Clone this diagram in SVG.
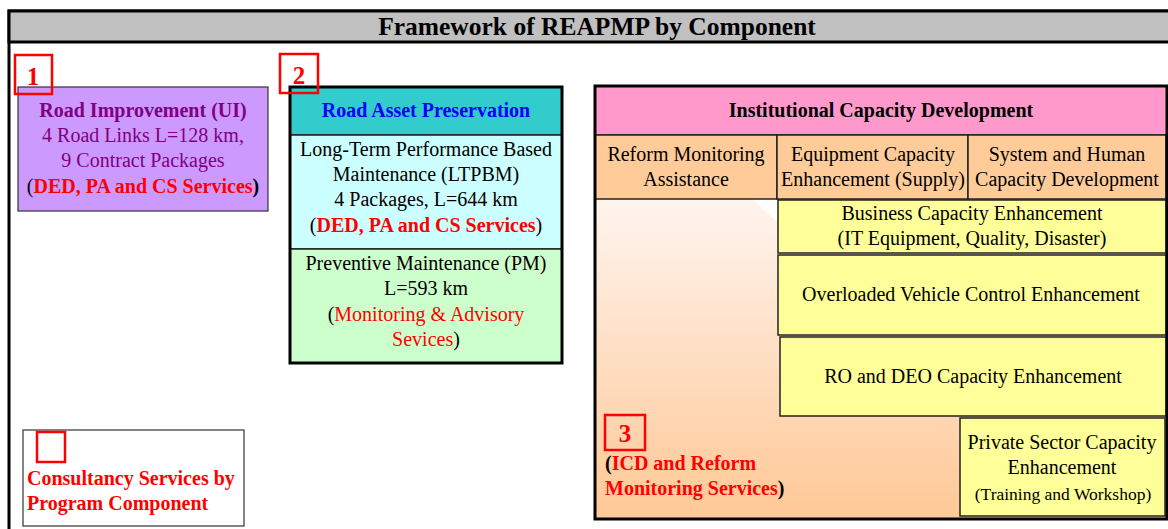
<svg xmlns="http://www.w3.org/2000/svg" width="1168" height="529" viewBox="0 0 1168 529">
  <defs>
    <linearGradient id="icdFade" x1="0" y1="0" x2="0" y2="1">
      <stop offset="0" stop-color="#FFF4EE"/>
      <stop offset="1" stop-color="#FFC896"/>
    </linearGradient>
    <style>
      text { font-family: "Liberation Serif", "Times New Roman", serif; font-size: 20px; fill: #000; }
      .c { text-anchor: middle; }
      .b { font-weight: bold; }
      .red { fill: #FF0000; }
      .purple { fill: #800080; }
      .blue { fill: #0000FF; }
      .thin { stroke: #333; stroke-width: 1.2; }
      .cell { stroke: #222; stroke-width: 1.5; }
      .heavy { fill: none; stroke: #000; stroke-width: 3; }
      .tag { fill: none; stroke: #FF0000; stroke-width: 2.5; }
      .num { font-size: 25px; font-weight: bold; fill: #FF0000; text-anchor: middle; }
    </style>
  </defs>

  <!-- page frame and title bar -->
  <g id="frame">
    <rect x="9" y="11" width="1175" height="540" fill="#FFFFFF" stroke="#000" stroke-width="3"/>
    <rect x="9" y="11" width="1175" height="31" fill="#C0C0C0" stroke="#000" stroke-width="3"/>
    <text x="597" y="35" class="c b" style="font-size:25.5px">Framework of REAPMP by Component</text>
  </g>

  <!-- component 1: road improvement -->
  <g id="road-improvement">
    <rect x="18" y="87" width="250" height="124" fill="#CC99FF" class="thin"/>
    <text x="143" y="117" class="c b purple">Road Improvement (UI)</text>
    <text x="143" y="142" class="c purple">4 Road Links L=128 km,</text>
    <text x="143" y="167" class="c purple">9 Contract Packages</text>
    <text x="143" y="193" class="c b"><tspan style="font-weight:normal">(</tspan><tspan class="red">DED, PA and CS Services</tspan>)</text>
    <rect x="15" y="55" width="37" height="39" class="tag"/>
    <text x="33" y="85" class="num">1</text>
  </g>

  <!-- component 2: road asset preservation -->
  <g id="road-asset-preservation">
    <rect x="290" y="87" width="272" height="48" fill="#33CCCC" class="cell"/>
    <rect x="290" y="135" width="272" height="114" fill="#CCFFFF" class="cell"/>
    <rect x="290" y="249" width="272" height="114" fill="#CCFFCC" class="cell"/>
    <rect x="290" y="87" width="272" height="276" class="heavy"/>
    <text x="426" y="117" class="c b blue">Road Asset Preservation</text>
    <text x="426" y="156" class="c">Long-Term Performance Based</text>
    <text x="426" y="181" class="c">Maintenance (LTPBM)</text>
    <text x="426" y="206" class="c">4 Packages, L=644 km</text>
    <text x="426" y="232" class="c">(<tspan class="b red">DED, PA and CS Services</tspan>)</text>
    <text x="426" y="270" class="c">Preventive Maintenance (PM)</text>
    <text x="426" y="295" class="c">L=593 km</text>
    <text x="426" y="321" class="c">(<tspan class="red">Monitoring &amp; Advisory</tspan></text>
    <text x="426" y="346" class="c"><tspan class="red">Sevices</tspan>)</text>
    <rect x="280" y="54" width="38" height="39" class="tag"/>
    <text x="299" y="84" class="num">2</text>
  </g>

  <!-- component 3: institutional capacity development -->
  <g id="institutional-capacity">
    <rect x="595" y="199" width="572" height="320" fill="url(#icdFade)"/>
    <polygon points="752,199 777,199 777,222" fill="#FFFFFF" opacity="0.9"/>
    <rect x="595" y="86" width="572" height="49" fill="#FF99CC" class="cell"/>
    <text x="881" y="117" class="c b">Institutional Capacity Development</text>
  </g>

  <g id="reform-monitoring">
    <rect x="595" y="135" width="182" height="64" fill="#FFCC99" class="cell"/>
    <text x="686" y="161" class="c">Reform Monitoring</text>
    <text x="686" y="186" class="c">Assistance</text>
  </g>

  <g id="equipment-capacity">
    <rect x="777" y="135" width="191" height="64" fill="#FFCC99" class="cell"/>
    <text x="873" y="161" class="c">Equipment Capacity</text>
    <text x="873" y="186" class="c">Enhancement (Supply)</text>
  </g>

  <g id="system-human-capacity">
    <rect x="968" y="135" width="198" height="64" fill="#FFCC99" class="cell"/>
    <text x="1067" y="161" class="c">System and Human</text>
    <text x="1067" y="186" class="c">Capacity Development</text>
  </g>

  <g id="business-capacity">
    <rect x="778" y="200" width="388" height="53" fill="#FFFF99" class="cell"/>
    <text x="972" y="220" class="c">Business Capacity Enhancement</text>
    <text x="972" y="245" class="c">(IT Equipment, Quality, Disaster)</text>
  </g>

  <g id="overloaded-vehicle">
    <rect x="778" y="255" width="388" height="80" fill="#FFFF99" class="cell"/>
    <text x="971" y="301" class="c">Overloaded Vehicle Control Enhancement</text>
  </g>

  <g id="ro-deo-capacity">
    <rect x="780" y="337" width="386" height="79" fill="#FFFF99" class="cell"/>
    <text x="973" y="383" class="c">RO and DEO Capacity Enhancement</text>
  </g>

  <g id="private-sector">
    <rect x="960" y="418" width="205" height="98" fill="#FFFF99" class="cell"/>
    <text x="1062" y="449" class="c">Private Sector Capacity</text>
    <text x="1062" y="474" class="c">Enhancement</text>
    <text x="1063" y="500" class="c" style="font-size:17.5px">(Training and Workshop)</text>
  </g>

  <g id="icd-services">
    <rect x="605" y="415" width="40" height="35" class="tag"/>
    <text x="625" y="442" class="num">3</text>
    <text x="605" y="470" class="b">(<tspan class="red">ICD and Reform</tspan></text>
    <text x="605" y="495" class="b"><tspan class="red">Monitoring Services</tspan>)</text>
  </g>

  <g id="icd-outline">
    <rect x="595" y="86" width="572" height="433" class="heavy"/>
  </g>

  <!-- legend -->
  <g id="legend">
    <rect x="23" y="430" width="221" height="96" fill="#FFFFFF" class="thin"/>
    <rect x="37" y="432" width="28" height="30" class="tag"/>
    <text x="27" y="485" class="b red">Consultancy Services by</text>
    <text x="27" y="510" class="b red">Program Component</text>
  </g>
</svg>
